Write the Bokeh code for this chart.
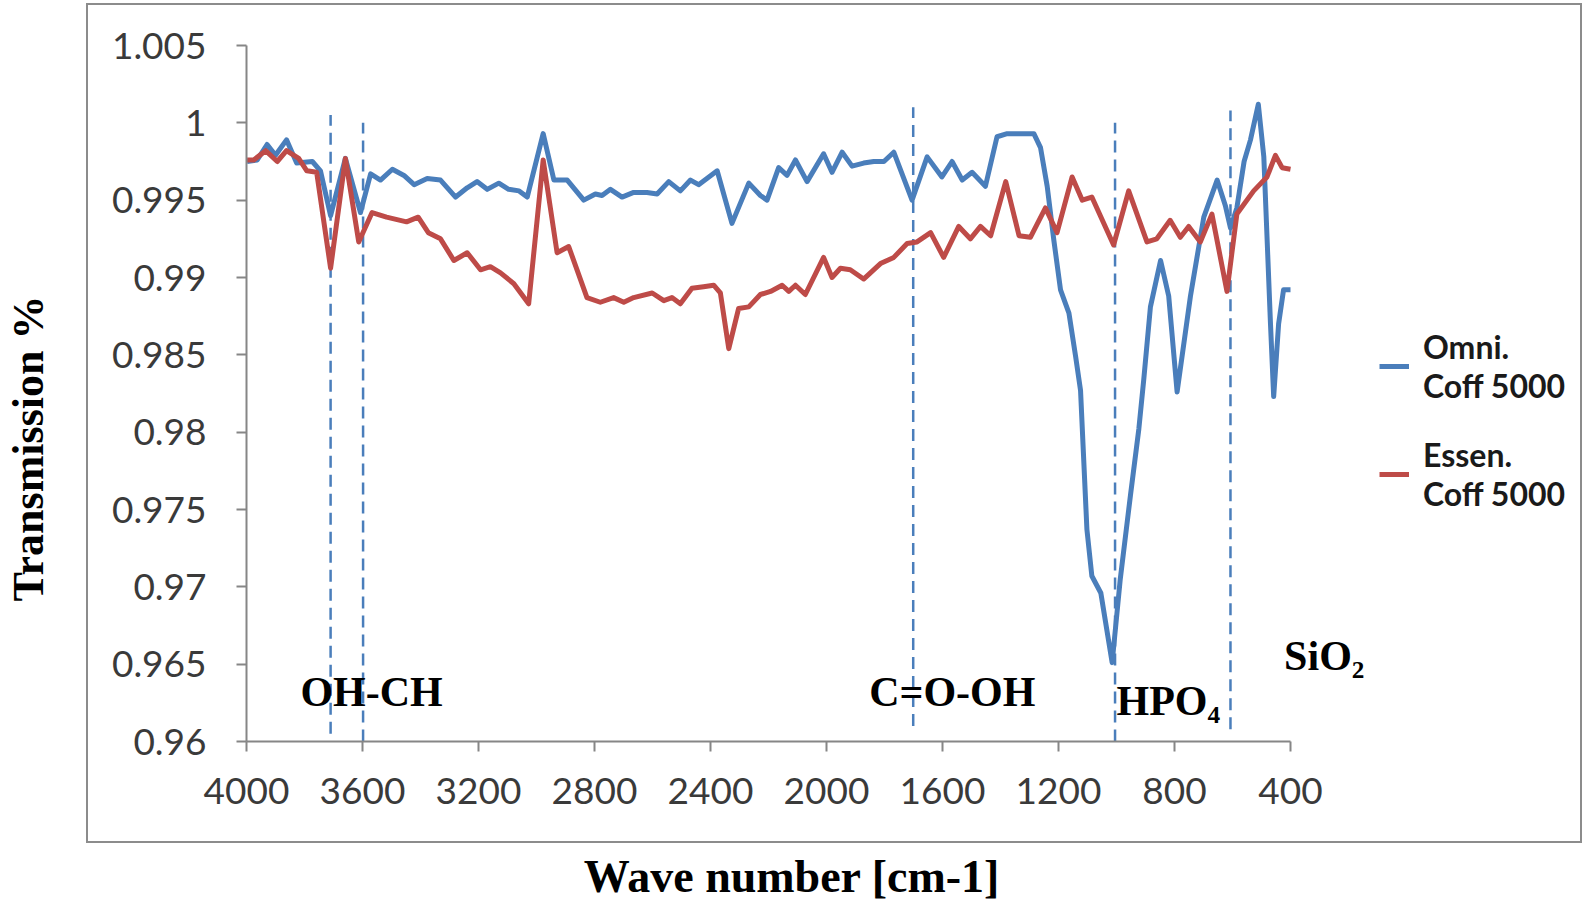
from bokeh.plotting import figure
from bokeh.models import (Range1d, FixedTicker, CustomJSTickFormatter, Legend, LegendItem,
                          Label, ColumnDataSource)
from bokeh.embed import file_html
from bokeh.resources import INLINE

# ---------------- data ----------------
omni_wn = [3998, 3963, 3929, 3900, 3862, 3827, 3773, 3745, 3710, 3659, 3607, 3572, 3538, 3497,
           3457, 3422, 3377, 3331, 3279, 3239, 3205, 3170, 3130, 3096, 3060, 3032, 2977, 2940,
           2894, 2837, 2797, 2774, 2745, 2705, 2665, 2619, 2584, 2544, 2504, 2469, 2441, 2377,
           2326, 2268, 2228, 2205, 2165, 2136, 2107, 2067, 2010, 1981, 1946, 1912, 1872, 1837,
           1802, 1768, 1705, 1653, 1602, 1567, 1532, 1498, 1452, 1412, 1377, 1331, 1285, 1262,
           1239, 1216, 1193, 1164, 1141, 1124, 1102, 1085, 1054, 1015, 987, 952, 923, 906, 883,
           848, 820, 791, 745, 699, 653, 624, 607, 585, 560, 538, 511, 492, 469, 458, 441, 424, 400]
omni_t = [0.9975, 0.9976, 0.9986, 0.9979, 0.9989, 0.9974, 0.9975, 0.9969, 0.9940, 0.9977, 0.9942,
          0.9967, 0.9963, 0.9970, 0.9966, 0.9960, 0.9964, 0.9963, 0.9952, 0.9958, 0.9962, 0.9957,
          0.9961, 0.9957, 0.9956, 0.9952, 0.9993, 0.9963, 0.9963, 0.9950, 0.9954, 0.9953, 0.9957,
          0.9952, 0.9955, 0.9955, 0.9954, 0.9962, 0.9956, 0.9963, 0.9960, 0.9969, 0.9935, 0.9961,
          0.9953, 0.9950, 0.9971, 0.9966, 0.9976, 0.9962, 0.9980, 0.9968, 0.9981, 0.9972, 0.9974,
          0.9975, 0.9975, 0.9981, 0.9950, 0.9978, 0.9965, 0.9975, 0.9963, 0.9968, 0.9959, 0.9991,
          0.9993, 0.9993, 0.9993, 0.9984, 0.9959, 0.9924, 0.9892, 0.9877, 0.9849, 0.9827, 0.9737,
          0.9707, 0.9696, 0.9651, 0.9705, 0.9759, 0.9802, 0.9834, 0.9881, 0.9911, 0.9888, 0.9826,
          0.9888, 0.9939, 0.9963, 0.9946, 0.9932, 0.9945, 0.9975, 0.9989, 1.0012, 0.9978, 0.9870,
          0.9823, 0.9870, 0.9892, 0.9892]

essen_wn = [3998, 3975, 3934, 3894, 3862, 3820, 3792, 3758, 3710, 3659, 3613, 3567, 3517, 3448,
            3408, 3373, 3331, 3285, 3239, 3193, 3159, 3124, 3078, 3027, 2977, 2929, 2889, 2826,
            2780, 2734, 2699, 2665, 2601, 2561, 2533, 2504, 2464, 2424, 2389, 2366, 2337, 2303,
            2268, 2228, 2193, 2153, 2130, 2107, 2073, 2010, 1981, 1952, 1918, 1872, 1814, 1768,
            1722, 1688, 1641, 1596, 1544, 1504, 1469, 1434, 1382, 1336, 1297, 1245, 1205, 1153,
            1118, 1085, 1010, 958, 895, 861, 815, 780, 751, 711, 671, 619, 585, 527, 481, 452,
            429, 400]
essen_t = [0.9976, 0.9976, 0.9982, 0.9975, 0.9982, 0.9977, 0.9969, 0.9968, 0.9906, 0.9977, 0.9923,
           0.9942, 0.9939, 0.9936, 0.9939, 0.9929, 0.9925, 0.9911, 0.9916, 0.9905, 0.9907, 0.9903,
           0.9896, 0.9883, 0.9976, 0.9916, 0.9920, 0.9887, 0.9884, 0.9887, 0.9884, 0.9887, 0.9890,
           0.9885, 0.9887, 0.9883, 0.9893, 0.9894, 0.9895, 0.9890, 0.9854, 0.9880, 0.9881, 0.9889,
           0.9891, 0.9895, 0.9891, 0.9895, 0.9889, 0.9913, 0.9900, 0.9906, 0.9905, 0.9899, 0.9909,
           0.9913, 0.9922, 0.9923, 0.9929, 0.9913, 0.9933, 0.9925, 0.9933, 0.9927, 0.9962, 0.9927,
           0.9926, 0.9945, 0.9929, 0.9965, 0.9950, 0.9952, 0.9921, 0.9956, 0.9923, 0.9925, 0.9937,
           0.9926, 0.9933, 0.9923, 0.9941, 0.9891, 0.9941, 0.9956, 0.9965, 0.9979, 0.9971, 0.9970]

series_names = ["Omni.\nCoff 5000", "Essen.\nCoff 5000"]

# dashed marker lines (wave number, top, bottom)
marker_wn = [3710, 3598, 1701, 1005, 607]
marker_top = [1.0005, 1.0000, 1.0010, 1.0000, 1.0008]
marker_bottom = [0.9605, 0.9600, 0.9610, 0.9600, 0.9608]

# band annotations
band_text = ["OH-CH", "C=O-OH", "HPO\u2084", "SiO\u2082"]
band_wn = [3814, 1853, 1000, 422]
band_t = [0.9632, 0.9632, 0.9626, 0.9655]

x_ticks = [4000, 3600, 3200, 2800, 2400, 2000, 1600, 1200, 800, 400]
y_ticks = [0.96, 0.965, 0.97, 0.975, 0.98, 0.985, 0.99, 0.995, 1.0, 1.005]
x_label = "Wave number [cm-1]"
y_label = "Transmission %"

# ---------------- layout constants ----------------
W, H = 1590, 904
LEFT, TOP, FRAME_H = 246, 45, 698
PLOT_W = 1044                      # pixels between 4000 and 400
x_lo, x_hi = max(x_ticks), min(x_ticks)
per_px = (x_lo - x_hi) / PLOT_W
x_end = x_lo - (W - LEFT) * per_px  # frame runs to the right edge; axis bounded to 400

BLUE = "#4a7ebb"
RED = "#be4b48"
AXIS = "#868686"
BOX = "#8c8c8c"

p = figure(width=W, height=H, output_backend="svg", toolbar_location=None,
           x_range=Range1d(x_lo, x_end), y_range=Range1d(min(y_ticks), max(y_ticks)),
           min_border_left=LEFT, min_border_right=0, min_border_top=TOP,
           min_border_bottom=H - TOP - FRAME_H)
p.outline_line_color = None
p.xgrid.visible = False
p.ygrid.visible = False
p.background_fill_alpha = 0
p.border_fill_alpha = 0

# grey chart-area frame drawn behind the (transparent) canvas
bx0, by0, bx1, by1 = 86, 3, 1580, 841
line = f"linear-gradient({BOX},{BOX})"
p.styles = {"background": (
    f"{line} {bx0}px {by0}px / {bx1 - bx0 + 2}px 2px no-repeat, "
    f"{line} {bx0}px {by1}px / {bx1 - bx0 + 2}px 2px no-repeat, "
    f"{line} {bx0}px {by0}px / 2px {by1 - by0 + 2}px no-repeat, "
    f"{line} {bx1}px {by0}px / 2px {by1 - by0 + 2}px no-repeat, white")}

for ax in (p.xaxis[0], p.yaxis[0]):
    ax.axis_line_color = AXIS
    ax.axis_line_width = 2
    ax.major_tick_line_color = AXIS
    ax.major_tick_line_width = 2
    ax.major_tick_out = 10
    ax.major_tick_in = 0
    ax.minor_tick_line_color = None
    ax.major_label_text_font = "Lato"
    ax.major_label_text_font_size = "37px"
    ax.major_label_text_color = "#3a3a3a"
    ax.axis_label_text_font = "Liberation Serif"
    ax.axis_label_text_font_style = "bold"
    ax.axis_label_text_color = "black"

p.xaxis.bounds = (x_hi, x_lo)
p.xaxis.ticker = FixedTicker(ticks=x_ticks)
p.yaxis.ticker = FixedTicker(ticks=y_ticks)
p.yaxis.formatter = CustomJSTickFormatter(code="return String(Number(tick.toFixed(3)));")
p.xaxis.major_label_standoff = 26
p.yaxis.major_label_standoff = 30

# axis titles: the frame runs past the x axis, so the titles are padded with
# no-break spaces to sit where the reference has them
p.xaxis.axis_label = x_label + "\u00a0" * 22
p.xaxis.axis_label_text_font_size = "46px"
p.xaxis.axis_label_standoff = 44
p.yaxis.axis_label = y_label + "\u00a0" * 10
p.yaxis.axis_label_text_font_size = "44px"
p.yaxis.axis_label_standoff = 56

# dashed marker lines
msrc = ColumnDataSource(dict(x=marker_wn, y0=marker_bottom, y1=marker_top))
p.segment(x0="x", y0="y0", x1="x", y1="y1", source=msrc,
          line_color=BLUE, line_width=2.5, line_dash="12 7")

r_omni = p.line(omni_wn, omni_t, line_color=BLUE, line_width=5, line_join="round")
r_essen = p.line(essen_wn, essen_t, line_color=RED, line_width=5, line_join="round")

for t, xw, yt in zip(band_text, band_wn, band_t):
    p.add_layout(Label(x=xw, y=yt, text=t, text_font="Liberation Serif",
                       text_font_style="bold", text_font_size="42px",
                       text_baseline="middle", text_align="left", text_color="black"))

legend = Legend(items=[LegendItem(label=series_names[0], renderers=[r_omni]),
                       LegendItem(label=series_names[1], renderers=[r_essen])],
                location=(1133, 228), padding=18, margin=0, spacing=30,
                glyph_width=30, glyph_height=30, label_standoff=14,
                label_text_font="Lato", label_text_font_style="bold",
                label_text_font_size="32px", label_text_color="#1a1a1a",
                border_line_color=None, background_fill_color="white",
                background_fill_alpha=1.0)
p.add_layout(legend)

open("out.html", "w").write(file_html(p, INLINE))
